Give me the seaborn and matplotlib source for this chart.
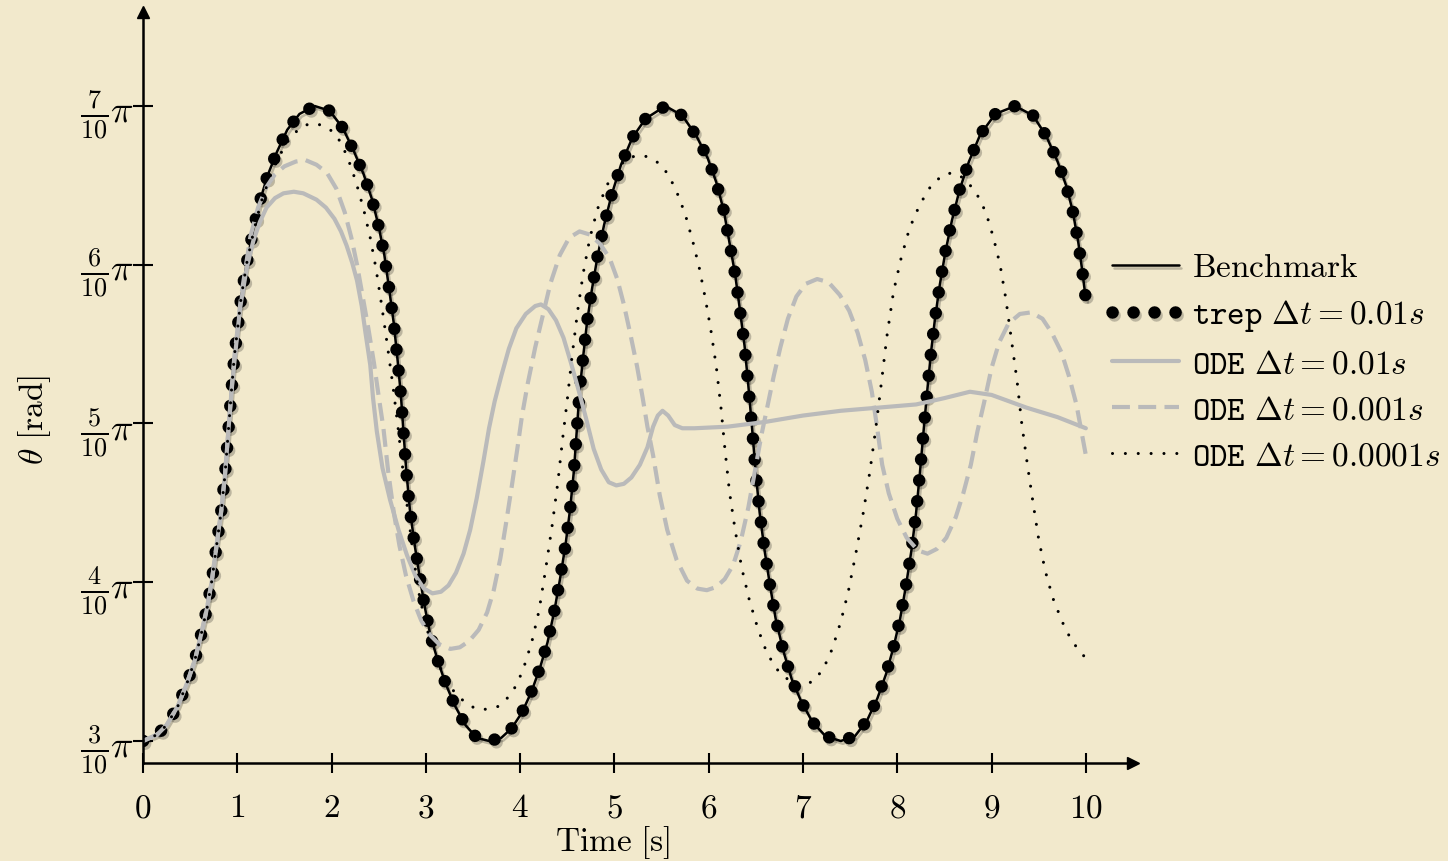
import matplotlib
matplotlib.use("Agg")
import matplotlib.pyplot as plt
import matplotlib.patheffects as pe
import seaborn as sns

# =====================================================
# DATA  (theta given in units of pi)
# =====================================================

bench_t = [0.00, 0.15, 0.25, 0.37, 0.47, 0.55, 0.62, 0.68, 0.73, 0.78, 0.83, 0.87, 0.905,
           0.94, 0.97, 1.00, 1.04, 1.10, 1.17, 1.24, 1.32, 1.42, 1.53, 1.66, 1.82,
           1.98, 2.12, 2.24, 2.34, 2.43, 2.50, 2.56, 2.61, 2.66, 2.70, 2.735, 2.76, 2.79,
           2.83, 2.88, 2.93, 2.99, 3.05, 3.13, 3.21, 3.31, 3.42, 3.54, 3.67,
           3.80, 3.91, 4.02, 4.12, 4.21, 4.29, 4.36, 4.42, 4.48, 4.53, 4.57, 4.60, 4.63,
           4.67, 4.71, 4.76, 4.82, 4.89, 4.97, 5.07, 5.19, 5.33, 5.54,
           5.72, 5.87, 5.99, 6.08, 6.16, 6.22, 6.28, 6.33, 6.38, 6.42, 6.46, 6.50, 6.54,
           6.59, 6.65, 6.71, 6.79, 6.88, 6.98, 7.10, 7.24, 7.40,
           7.55, 7.68, 7.79, 7.88, 7.96, 8.03, 8.09, 8.15, 8.20, 8.24, 8.28, 8.32, 8.36,
           8.40, 8.45, 8.51, 8.58, 8.66, 8.76, 8.88, 9.04, 9.25,
           9.44, 9.58, 9.70, 9.79, 9.86, 9.92, 9.96, 10.00]
bench_y = [0.300, 0.304, 0.310, 0.322, 0.337, 0.351, 0.368, 0.384, 0.401, 0.423, 0.445, 0.468, 0.495,
           0.522, 0.543, 0.558, 0.579, 0.601, 0.622, 0.640, 0.656, 0.671, 0.685, 0.695, 0.700,
           0.697, 0.686, 0.671, 0.657, 0.641, 0.624, 0.606, 0.585, 0.563, 0.540, 0.518, 0.497, 0.472,
           0.446, 0.424, 0.405, 0.384, 0.366, 0.350, 0.336, 0.322, 0.310, 0.302, 0.300,
           0.302, 0.308, 0.318, 0.331, 0.346, 0.362, 0.381, 0.401, 0.423, 0.446, 0.470, 0.495, 0.520,
           0.543, 0.564, 0.584, 0.605, 0.625, 0.644, 0.663, 0.680, 0.692, 0.700,
           0.694, 0.681, 0.667, 0.652, 0.634, 0.614, 0.594, 0.572, 0.549, 0.524, 0.497, 0.468, 0.444,
           0.421, 0.398, 0.377, 0.357, 0.339, 0.325, 0.312, 0.303, 0.300,
           0.303, 0.313, 0.327, 0.342, 0.359, 0.377, 0.397, 0.420, 0.444, 0.469, 0.496, 0.522, 0.546,
           0.566, 0.587, 0.608, 0.628, 0.647, 0.665, 0.682, 0.695, 0.700,
           0.694, 0.681, 0.665, 0.650, 0.634, 0.614, 0.597, 0.578]

ode01_t = [0.00, 0.15, 0.25, 0.37, 0.47, 0.55, 0.62, 0.68, 0.73, 0.78, 0.83, 0.87, 0.905,
           0.94, 0.98, 1.03, 1.10, 1.17, 1.24, 1.31, 1.40, 1.49, 1.60, 1.70, 1.84, 1.94,
           2.03, 2.10, 2.16, 2.22, 2.27, 2.32, 2.36, 2.41, 2.44, 2.48, 2.54, 2.62, 2.71,
           2.80, 2.89, 2.98, 3.07, 3.16, 3.24, 3.32, 3.40, 3.47, 3.54, 3.61, 3.67, 3.73,
           3.80, 3.88, 3.96, 4.06, 4.16, 4.22, 4.30, 4.38, 4.46, 4.54, 4.62, 4.70, 4.78,
           4.86, 4.94, 5.02, 5.10, 5.18, 5.27, 5.35, 5.41, 5.46, 5.51, 5.57, 5.64, 5.72,
           5.85, 6.20, 6.60, 7.00, 7.40, 7.80, 8.20, 8.50, 8.77, 9.00, 9.37, 9.70, 10.00]
ode01_y = [0.300, 0.304, 0.310, 0.322, 0.337, 0.351, 0.368, 0.384, 0.401, 0.423, 0.445, 0.468, 0.495,
           0.521, 0.545, 0.573, 0.598, 0.615, 0.627, 0.636, 0.642, 0.645, 0.646, 0.645, 0.641, 0.636,
           0.629, 0.621, 0.612, 0.601, 0.590, 0.574, 0.557, 0.537, 0.516, 0.495, 0.472, 0.452, 0.433,
           0.417, 0.404, 0.396, 0.393, 0.394, 0.398, 0.406, 0.418, 0.433, 0.453, 0.476, 0.497, 0.514,
           0.530, 0.547, 0.560, 0.569, 0.574, 0.575, 0.572, 0.565, 0.554, 0.538, 0.521, 0.503, 0.484,
           0.471, 0.463, 0.461, 0.462, 0.466, 0.474, 0.485, 0.498, 0.505, 0.508, 0.505, 0.499, 0.497,
           0.497, 0.498, 0.501, 0.505, 0.508, 0.510, 0.512, 0.516, 0.520, 0.518, 0.510, 0.504, 0.497]

ode001_t = [0.00, 0.15, 0.25, 0.37, 0.47, 0.55, 0.62, 0.68, 0.73, 0.78, 0.83, 0.87, 0.905,
            0.94, 0.97, 1.00, 1.04, 1.14, 1.22, 1.31, 1.40, 1.50, 1.62, 1.72, 1.84, 1.95,
            2.05, 2.14, 2.21, 2.27, 2.33, 2.39, 2.45, 2.50, 2.55, 2.60, 2.66, 2.72, 2.79,
            2.87, 2.95, 3.04, 3.14, 3.26, 3.36, 3.46, 3.56, 3.65, 3.72, 3.79, 3.85, 3.91,
            3.97, 4.02, 4.08, 4.16, 4.24, 4.32, 4.42, 4.52, 4.63, 4.74, 4.85, 4.95, 5.03,
            5.10, 5.17, 5.24, 5.30, 5.35, 5.41, 5.48, 5.56, 5.66, 5.77, 5.88, 5.98, 6.08,
            6.17, 6.26, 6.34, 6.42, 6.49, 6.56, 6.62, 6.69, 6.76, 6.84, 6.93, 7.03, 7.15,
            7.27, 7.39, 7.49, 7.58, 7.66, 7.73, 7.78, 7.84, 7.91, 8.00, 8.10, 8.22, 8.32,
            8.42, 8.52, 8.62, 8.70, 8.78, 8.85, 8.92, 9.00, 9.08, 9.18, 9.30, 9.42, 9.54,
            9.64, 9.74, 9.82, 9.90, 9.95, 10.00]
ode001_y = [0.300, 0.304, 0.310, 0.322, 0.337, 0.351, 0.368, 0.384, 0.401, 0.423, 0.445, 0.468, 0.495,
            0.522, 0.543, 0.558, 0.580, 0.618, 0.636, 0.649, 0.657, 0.662, 0.665, 0.666, 0.663, 0.658,
            0.648, 0.633, 0.617, 0.600, 0.580, 0.560, 0.538, 0.517, 0.497, 0.470, 0.444, 0.423, 0.404,
            0.388, 0.376, 0.367, 0.361, 0.358, 0.359, 0.363, 0.370, 0.381, 0.395, 0.415, 0.437, 0.460,
            0.484, 0.505, 0.525, 0.548, 0.568, 0.588, 0.606, 0.617, 0.621, 0.619, 0.613, 0.604, 0.591,
            0.575, 0.556, 0.536, 0.516, 0.498, 0.480, 0.455, 0.433, 0.414, 0.401, 0.396, 0.395, 0.397,
            0.402, 0.411, 0.426, 0.447, 0.470, 0.493, 0.510, 0.530, 0.548, 0.566, 0.580, 0.588, 0.591,
            0.589, 0.581, 0.571, 0.557, 0.540, 0.520, 0.500, 0.474, 0.456, 0.440, 0.428, 0.420, 0.418,
            0.421, 0.428, 0.441, 0.456, 0.474, 0.495, 0.513, 0.535, 0.551, 0.563, 0.569, 0.570, 0.566,
            0.557, 0.545, 0.530, 0.512, 0.496, 0.480]

ode0001_t = [0.00, 0.15, 0.25, 0.37, 0.47, 0.55, 0.62, 0.68, 0.73, 0.78, 0.83, 0.87, 0.905,
             0.94, 0.97, 1.00, 1.04, 1.10, 1.17, 1.25, 1.35, 1.45, 1.55, 1.66, 1.77, 1.90,
             2.01, 2.10, 2.18, 2.26, 2.34, 2.41, 2.47, 2.53, 2.59, 2.65, 2.70, 2.75, 2.80,
             2.86, 2.92, 3.00, 3.09, 3.19, 3.30, 3.42, 3.54, 3.66, 3.78, 3.88, 3.97, 4.06,
             4.13, 4.20, 4.27, 4.34, 4.40, 4.45, 4.50, 4.55, 4.61, 4.67, 4.74, 4.82, 4.92,
             5.03, 5.14, 5.25, 5.36, 5.47, 5.57, 5.66, 5.75, 5.83, 5.90, 5.96, 6.02, 6.08,
             6.13, 6.17, 6.22, 6.28, 6.35, 6.43, 6.52, 6.62, 6.75, 6.88, 7.00, 7.12, 7.22,
             7.31, 7.40, 7.48, 7.56, 7.64, 7.71, 7.77, 7.83, 7.89, 7.96, 8.04, 8.13, 8.24,
             8.37, 8.50, 8.60, 8.72, 8.84, 8.94, 9.02, 9.09, 9.15, 9.21, 9.27, 9.32, 9.38,
             9.44, 9.50, 9.57, 9.65, 9.75, 9.85, 10.00]
ode0001_y = [0.300, 0.304, 0.310, 0.322, 0.337, 0.351, 0.368, 0.384, 0.401, 0.423, 0.445, 0.468, 0.495,
             0.522, 0.543, 0.558, 0.579, 0.601, 0.620, 0.639, 0.656, 0.669, 0.679, 0.686, 0.689, 0.688,
             0.684, 0.677, 0.666, 0.652, 0.635, 0.617, 0.598, 0.575, 0.550, 0.524, 0.500, 0.474, 0.449,
             0.420, 0.395, 0.373, 0.355, 0.341, 0.331, 0.324, 0.320, 0.320, 0.322, 0.328, 0.336, 0.350,
             0.364, 0.382, 0.408, 0.436, 0.463, 0.490, 0.515, 0.542, 0.571, 0.595, 0.617, 0.635, 0.650,
             0.661, 0.667, 0.669, 0.668, 0.664, 0.657, 0.646, 0.632, 0.615, 0.598, 0.580, 0.560, 0.536,
             0.510, 0.485, 0.457, 0.433, 0.409, 0.389, 0.371, 0.355, 0.343, 0.337, 0.335, 0.338, 0.346,
             0.358, 0.375, 0.394, 0.418, 0.444, 0.470, 0.496, 0.525, 0.555, 0.583, 0.604, 0.623, 0.638,
             0.651, 0.657, 0.658, 0.654, 0.645, 0.633, 0.617, 0.600, 0.579, 0.553, 0.527, 0.500, 0.474,
             0.450, 0.427, 0.407, 0.390, 0.375, 0.363, 0.352]

y_ticks = [0.3, 0.4, 0.5, 0.6, 0.7]
y_tick_labels = [r"$\frac{3}{10}\pi$", r"$\frac{4}{10}\pi$", r"$\frac{5}{10}\pi$",
                 r"$\frac{6}{10}\pi$", r"$\frac{7}{10}\pi$"]
x_ticks = list(range(0, 11))

labels = [r"$\mathrm{Benchmark}$",
          r"$\mathtt{trep}\ \Delta t = 0.01s$",
          r"$\mathtt{ODE}\ \Delta t = 0.01s$",
          r"$\mathtt{ODE}\ \Delta t = 0.001s$",
          r"$\mathtt{ODE}\ \Delta t = 0.0001s$"]

# =====================================================
# STYLE
# =====================================================

sns.set_style("ticks")
plt.rcParams["mathtext.fontset"] = "cm"
plt.rcParams["font.family"] = ["DejaVu Serif"]
plt.rcParams["text.color"] = "black"
plt.rcParams["xtick.labelcolor"] = "black"
plt.rcParams["ytick.labelcolor"] = "black"

paper = "#f2e9cc"
gray = "#bababa"

fig = plt.figure(figsize=(14.48, 8.61), dpi=100)
fig.patch.set_facecolor(paper)
ax = fig.add_axes([143 / 1448, 98 / 861, 990 / 1448, 751 / 861])
ax.set_facecolor("none")

shadow = [pe.SimpleLineShadow(offset=(1.5, -2), shadow_color="k", alpha=0.22), pe.Normal()]

# =====================================================
# CURVES
# =====================================================

sns.lineplot(x=bench_t, y=bench_y, sort=False, estimator=None, ax=ax,
             color="black", lw=1.8, label=labels[0], path_effects=shadow)
sns.lineplot(x=bench_t, y=bench_y, sort=False, estimator=None, ax=ax,
             color="black", lw=9.0, linestyle=(0, (0.01, 1.67)),
             dash_capstyle="round", label=labels[1], path_effects=shadow)
sns.lineplot(x=ode01_t, y=ode01_y, sort=False, estimator=None, ax=ax,
             color=gray, lw=3.0, label=labels[2])
sns.lineplot(x=ode001_t, y=ode001_y, sort=False, estimator=None, ax=ax,
             color=gray, lw=3.0, linestyle=(0, (4.3, 2.0)), label=labels[3])
sns.lineplot(x=ode0001_t, y=ode0001_y, sort=False, estimator=None, ax=ax,
             color="black", lw=2.2, linestyle=(0, (0.01, 4.2)),
             dash_capstyle="round", label=labels[4])

# =====================================================
# AXES (arrow style)
# =====================================================

ax.set_xlim(0, 10.5)
ax.set_ylim(0.28614, 0.75921)
sns.despine(ax=ax)
for side in ["left", "bottom"]:
    ax.spines[side].set_linewidth(1.8)
    ax.spines[side].set_color("black")
ax.plot(1, 0, ">", color="black", ms=9, transform=ax.transAxes, clip_on=False)
ax.plot(0, 1, "^", color="black", ms=9, transform=ax.transAxes, clip_on=False)

ax.set_xticks(x_ticks)
ax.set_xticklabels([rf"${v}$" for v in x_ticks], fontsize=24, color="black")
ax.set_yticks(y_ticks)
ax.set_yticklabels(y_tick_labels, fontsize=27, color="black")
ax.tick_params(axis="both", direction="inout", length=14, width=1.5, color="black")
ax.tick_params(axis="x", pad=14)
ax.tick_params(axis="y", pad=-1)

ax.set_xlabel("")
ax.set_ylabel("")
fig.text(613 / 1448, 1 - 843 / 861, r"$\mathrm{Time\ [s]}$", fontsize=24,
         ha="center", va="center", color="black")
fig.text(35 / 1448, 1 - 420 / 861, r"$\theta\ \mathrm{[rad]}$", fontsize=24,
         ha="center", va="center", rotation=90, color="black")

leg = ax.legend(loc="center left", bbox_to_anchor=(1112 / 1448, 1 - 362 / 861),
                bbox_transform=fig.transFigure, frameon=False, fontsize=24,
                handlelength=2.0, handletextpad=0.4, labelspacing=0.42,
                borderpad=0, borderaxespad=0)
for txt in leg.get_texts():
    txt.set_color("black")

fig.savefig("out.png", dpi=100, facecolor=paper)
